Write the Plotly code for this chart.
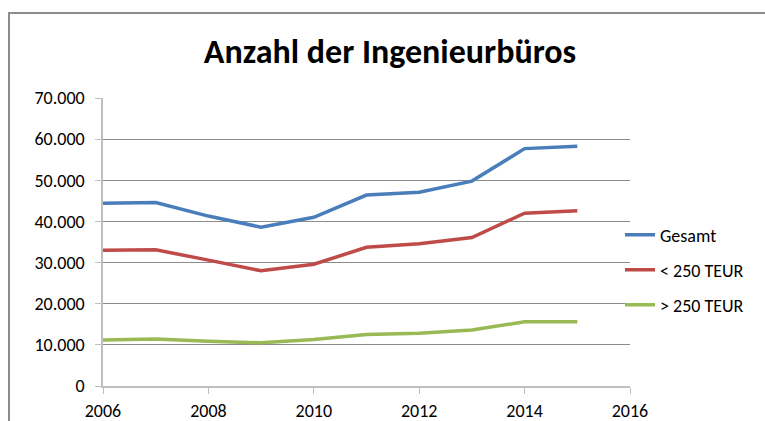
import plotly.graph_objects as go

years = [2006, 2007, 2008, 2009, 2010, 2011, 2012, 2013, 2014, 2015]
gesamt = [44400, 44600, 41300, 38600, 41000, 46400, 47100, 49800, 57700, 58300]
unter_250 = [33000, 33100, 30600, 28000, 29600, 33700, 34600, 36100, 42000, 42600]
ueber_250 = [11200, 11400, 10900, 10500, 11300, 12500, 12800, 13600, 15600, 15600]

series_names = ["Gesamt", "< 250 TEUR", "> 250 TEUR"]
series_colors = ["#4a7ebb", "#be4b48", "#98b954"]
series_values = [gesamt, unter_250, ueber_250]

y_ticks = [0, 10000, 20000, 30000, 40000, 50000, 60000, 70000]
y_ticklabels = ["0", "10.000", "20.000", "30.000", "40.000", "50.000", "60.000", "70.000"]
x_ticks = [2006, 2008, 2010, 2012, 2014, 2016]

# body margin is reset to 0 by the post script, so page px == figure px
OFF = 0
PAGE_W, PAGE_H = 765, 421
W, H = PAGE_W - OFF, PAGE_H - OFF
# plot area in page pixels: x 103..630, y 98..386
L = 103 - OFF
T = 98 - OFF
R = W - (630 - OFF)
B = H - (386 - OFF)
pw, ph = W - L - R, H - T - B

def px2x(px):
    return (px - OFF - L) / pw

def py2y(py):
    return (H - B - (py - OFF)) / ph

font_family = "Carlito, Calibri, 'Liberation Sans', sans-serif"

fig = go.Figure()
legend_ids = ["legend", "legend2", "legend3"]
legend_y_px = [235, 270, 305]
for name, color, vals, lid in zip(series_names, series_colors, series_values, legend_ids):
    fig.add_trace(go.Scatter(x=years, y=vals, mode="lines", name=name,
                             line=dict(color=color, width=3.5), legend=lid,
                             showlegend=True))

legend_common = dict(font=dict(family=font_family, size=18, color="#000000"),
                     bgcolor="rgba(0,0,0,0)", xanchor="left", yanchor="middle",
                     itemwidth=30, borderwidth=0)
layout_legends = {}
for lid, ypx in zip(legend_ids, legend_y_px):
    layout_legends[lid] = dict(legend_common, x=px2x(620), y=py2y(ypx))

fig.update_layout(
    width=W, height=H,
    margin=dict(l=L, r=R, t=T, b=B, autoexpand=False),
    showlegend=True,
    paper_bgcolor="white", plot_bgcolor="white",
    title=dict(text="<b>Anzahl der Ingenieurbüros</b>", x=(390 - OFF) / W, xanchor="center",
               y=1 - (51 - OFF) / H, yanchor="middle",
               font=dict(family=font_family, size=34, color="#000000")),
    xaxis=dict(range=[2006, 2016], tickvals=x_ticks, ticktext=[str(v) for v in x_ticks],
               showgrid=False, showline=True, linecolor="#bfbfbf", linewidth=1.5,
               ticks="outside", ticklen=6, tickcolor="#bfbfbf",
               ticklabelstandoff=2,
               tickfont=dict(family=font_family, size=18, color="#000000"),
               zeroline=False, fixedrange=True),
    yaxis=dict(range=[0, 70000], tickvals=y_ticks, ticktext=y_ticklabels,
               showgrid=True, gridcolor="#8c8c8c", gridwidth=1,
               showline=True, linecolor="#bfbfbf", linewidth=1.5,
               ticks="outside", ticklen=6, tickcolor="#bfbfbf",
               ticklabelstandoff=7,
               tickfont=dict(family=font_family, size=18, color="#000000"),
               zeroline=False, fixedrange=True),
    **layout_legends,
)

# outer chart frame (top and left edges visible in reference)
fig.add_shape(type="line", xref="paper", yref="paper",
              x0=px2x(8), x1=px2x(765), y0=py2y(13), y1=py2y(13),
              line=dict(color="#8c8c8c", width=2))
fig.add_shape(type="line", xref="paper", yref="paper",
              x0=px2x(9), x1=px2x(9), y0=py2y(12), y1=py2y(421),
              line=dict(color="#8c8c8c", width=2))

fig.write_html("out.html", config={"displayModeBar": False},
               post_script="document.body.style.margin='0';"
                           "document.documentElement.style.overflow='hidden';"
                           "document.body.style.overflow='hidden';")
